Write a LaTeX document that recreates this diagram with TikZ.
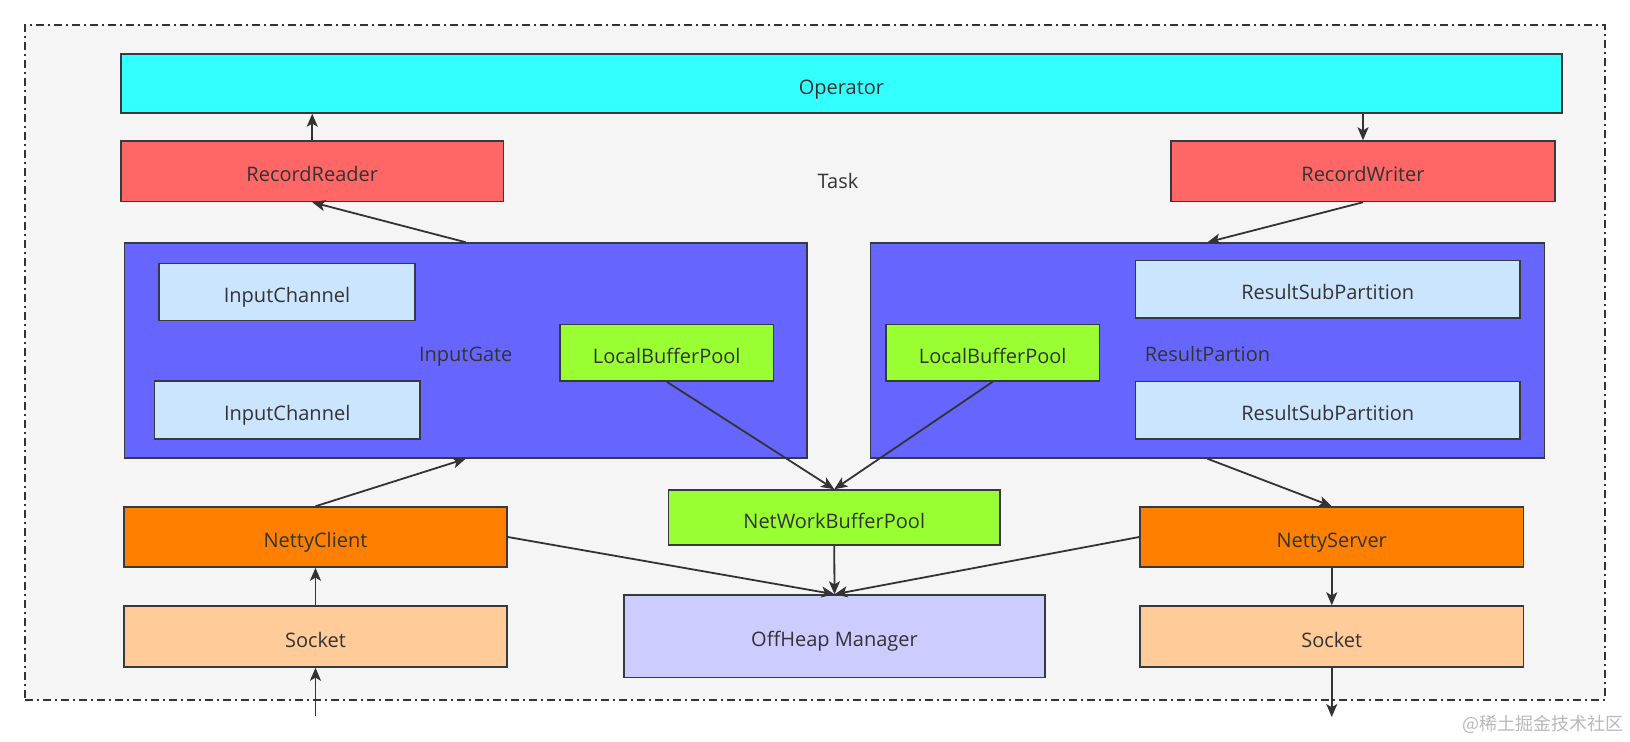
\documentclass[tikz,border=0pt]{standalone}
\usepackage{fontspec}
\setmainfont{Open Sans}
\newfontfamily\cjkfont{Noto Sans CJK SC}
\usetikzlibrary{arrows.meta}
\definecolor{txt}{HTML}{333333}
\definecolor{edge}{HTML}{36393D}
\definecolor{framebg}{HTML}{F5F5F5}
\definecolor{opfill}{HTML}{33FFFF}
\definecolor{recfill}{HTML}{FF6666}
\definecolor{gatefill}{HTML}{6666FF}
\definecolor{chanfill}{HTML}{CCE5FF}
\definecolor{poolfill}{HTML}{99FF33}
\definecolor{nettyfill}{HTML}{FF8000}
\definecolor{sockfill}{HTML}{FFCC99}
\definecolor{heapfill}{HTML}{CCCCFF}
\begin{document}
\begin{tikzpicture}[x=0.5pt,y=-0.5pt,
  box/.style={draw=edge, line width=0.75pt, inner sep=0pt, text=txt, anchor=center,
    font=\fontsize{10}{12}\selectfont, text height=1.05em, text depth=0pt},
  lbl/.style={inner sep=0pt, text=txt, font=\fontsize{10}{12}\selectfont, text height=1.05em, text depth=0pt},
  conn/.style={draw=txt, line width=0.9pt, -{Stealth[length=6.5pt,width=5.5pt,inset=1.6pt]}},
  framebox/.style={draw=txt, fill=framebg, line width=0.8pt, dash pattern=on 4pt off 2pt on 1pt off 2pt, inner sep=0pt}
]
\useasboundingbox (0,0) rectangle (1630,741);
\fill[white] (0,0) rectangle (1630,741);
% outer task frame
\node[framebox, minimum width=790pt, minimum height=337.5pt] (task) at (815,362.5) {};
\node[lbl] (tasklbl) at (838,178) {Task};
% top
\node[box, fill=opfill, minimum width=720.5pt, minimum height=29.5pt] (op) at (841.5,83.5) {Operator};
\node[box, fill=recfill, minimum width=191.25pt, minimum height=30.25pt] (rr) at (312.25,171.25) {RecordReader};
\node[box, fill=recfill, minimum width=192pt, minimum height=30.25pt] (rw) at (1363,171.25) {RecordWriter};
% input gate
\node[box, fill=gatefill, minimum width=341.25pt, minimum height=107.5pt] (ig) at (465.75,350.5) {InputGate};
\node[box, fill=chanfill, minimum width=128pt, minimum height=28.5pt] (ic1) at (287,292.2) {InputChannel};
\node[box, fill=chanfill, minimum width=132.85pt, minimum height=29pt] (ic2) at (287.15,410) {InputChannel};
\node[box, fill=poolfill, minimum width=106.75pt, minimum height=28.25pt] (lbpl) at (666.75,352.75) {LocalBufferPool};
% result partition
\node[box, fill=gatefill, minimum width=337pt, minimum height=107.5pt] (rp) at (1207.5,350.5) {ResultPartion};
\node[box, fill=chanfill, minimum width=192.25pt, minimum height=28.75pt] (rsp1) at (1327.75,289.25) {ResultSubPartition};
\node[box, fill=chanfill, minimum width=192.25pt, minimum height=28.75pt] (rsp2) at (1327.75,410.25) {ResultSubPartition};
\node[box, fill=poolfill, minimum width=106.75pt, minimum height=28.25pt] (lbpr) at (992.75,352.75) {LocalBufferPool};
% lower
\node[box, fill=poolfill, minimum width=165.75pt, minimum height=27.5pt] (nwbp) at (834.25,517.5) {NetWorkBufferPool};
\node[box, fill=nettyfill, minimum width=191.5pt, minimum height=30pt] (nc) at (315.5,537) {NettyClient};
\node[box, fill=nettyfill, minimum width=191.75pt, minimum height=30pt] (ns) at (1331.75,537) {NettyServer};
\node[box, fill=sockfill, minimum width=191.5pt, minimum height=30.5pt] (sl) at (315.5,636.5) {Socket};
\node[box, fill=sockfill, minimum width=191.75pt, minimum height=30.5pt] (sr) at (1331.75,636.5) {Socket};
\node[box, fill=heapfill, minimum width=210.5pt, minimum height=41.35pt] (oh) at (834.5,636.35) {OffHeap Manager};
% connectors
\draw[conn] (rr.north) -- (rr.north |- op.south);
\draw[conn] (op.south -| rw.north) -- (rw.north);
\draw[conn] (ig.north) -- (rr.south);
\draw[conn] (rw.south) -- (rp.north);
\draw[conn] (nc.north) -- (ig.south);
\draw[conn] (rp.south) -- (ns.north);
\draw[conn] (lbpl.south) -- (nwbp.north);
\draw[conn] (lbpr.south) -- (nwbp.north);
\draw[conn] (nwbp.south) -- (oh.north);
\draw[conn] (nc.east) -- (oh.north);
\draw[conn] (ns.west) -- (oh.north);
\draw[conn] (sl.north) -- (nc.south);
\coordinate (inL) at (315.5,716);
\draw[conn] (inL) -- (sl.south);
\draw[conn] (ns.south) -- (sr.north);
\coordinate (outR) at (1331.75,717);
\draw[conn] (sr.south) -- (outR);
% watermark
\node[inner sep=0pt, text=gray!55, font=\cjkfont\fontsize{9}{10}\selectfont] (wm) at (1543,724) {@稀土掘金技术社区};
\end{tikzpicture}
\end{document}
